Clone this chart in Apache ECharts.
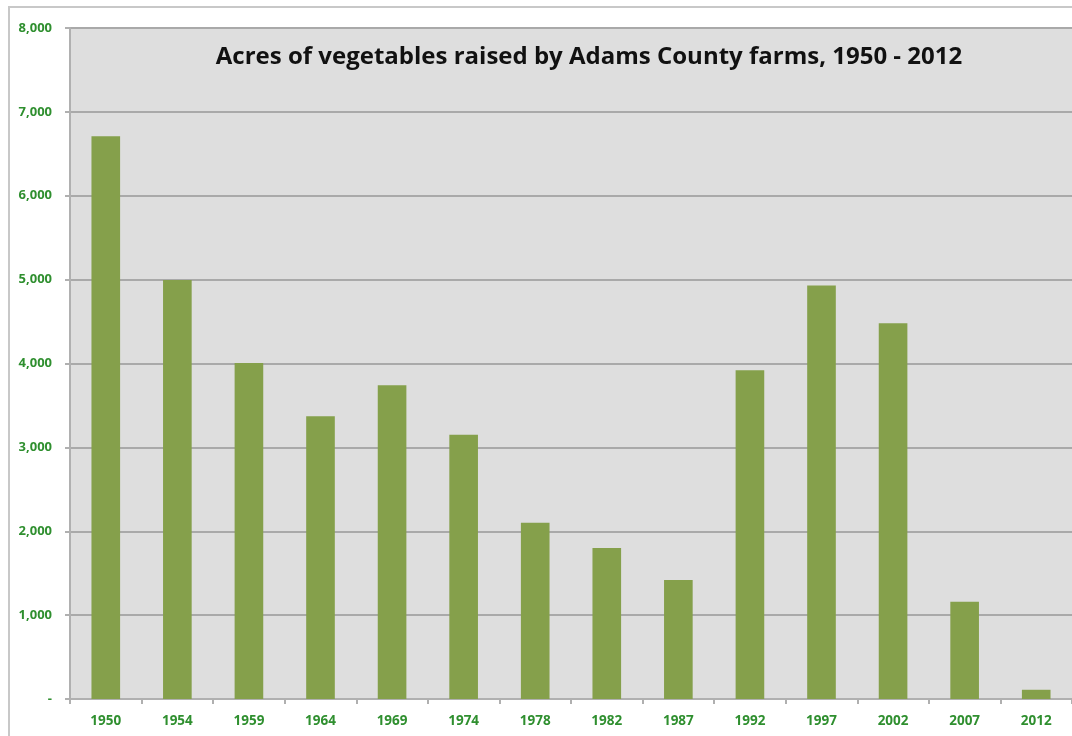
<!DOCTYPE html>
<html>
<head>
<meta charset="utf-8">
<script src="https://cdn.jsdelivr.net/npm/echarts@6/dist/echarts.min.js"></script>
<style>
  html, body { margin: 0; padding: 0; background: #ffffff; }
  #frame { position: absolute; left: 8px; top: 6px; width: 1070px; height: 740px;
           border-left: 2px solid #c8c8c8; border-top: 2px solid #c8c8c8; box-sizing: border-box; }
  #chart { position: absolute; left: 0; top: 0; width: 1072px; height: 736px; }
</style>
</head>
<body>
<div id="frame"></div>
<div id="chart"></div>
<script>
// Census years and vegetable acreage for Adams County farms
const years = ['1950', '1954', '1959', '1964', '1969', '1974', '1978', '1982', '1987', '1992', '1997', '2002', '2007', '2012'];
const acres = [6710, 4995, 4005, 3370, 3740, 3150, 2100, 1800, 1420, 3920, 4930, 4480, 1160, 110];
const titleText = 'Acres of vegetables raised by Adams County farms, 1950 - 2012';

const labelGreen = '#2f8f2f';
const chart = echarts.init(document.getElementById('chart'), null, { renderer: 'canvas' });

chart.setOption({
  animation: false,
  backgroundColor: 'transparent',
  title: {
    text: titleText,
    left: 584,
    top: 40,
    textAlign: 'center',
    textStyle: { fontFamily: 'Open Sans', fontWeight: 'bold', fontSize: 24, color: '#111111' }
  },
  grid: { left: 70, right: 0, top: 28, bottom: 37, containLabel: false,
          show: true, backgroundColor: '#dedede', borderWidth: 0 },
  xAxis: {
    type: 'category',
    data: years,
    axisLine: { show: true, lineStyle: { color: '#b0b0b0', width: 2 } },
    axisTick: { show: true, alignWithLabel: false, length: 5, lineStyle: { color: '#b0b0b0', width: 2 } },
    axisLabel: { color: labelGreen, fontFamily: 'Open Sans', fontWeight: 'bold', fontSize: 13.5, margin: 15 },
    splitLine: { show: false }
  },
  yAxis: {
    type: 'value',
    min: 0,
    max: 8000,
    interval: 1000,
    axisLine: { show: true, lineStyle: { color: '#b0b0b0', width: 2 } },
    axisTick: { show: true, length: 5, lineStyle: { color: '#b0b0b0', width: 2 } },
    axisLabel: {
      color: labelGreen, fontFamily: 'Open Sans', fontWeight: 'bold', fontSize: 13, margin: 18,
      formatter: v => v === 0 ? '-' : v.toLocaleString('en-US')
    },
    splitLine: { show: true, lineStyle: { color: '#a9a9a9', width: 2 } }
  },
  series: [{
    type: 'bar',
    data: acres,
    barWidth: '40%',
    itemStyle: { color: '#85a04b' }
  }]
});
</script>
</body>
</html>
